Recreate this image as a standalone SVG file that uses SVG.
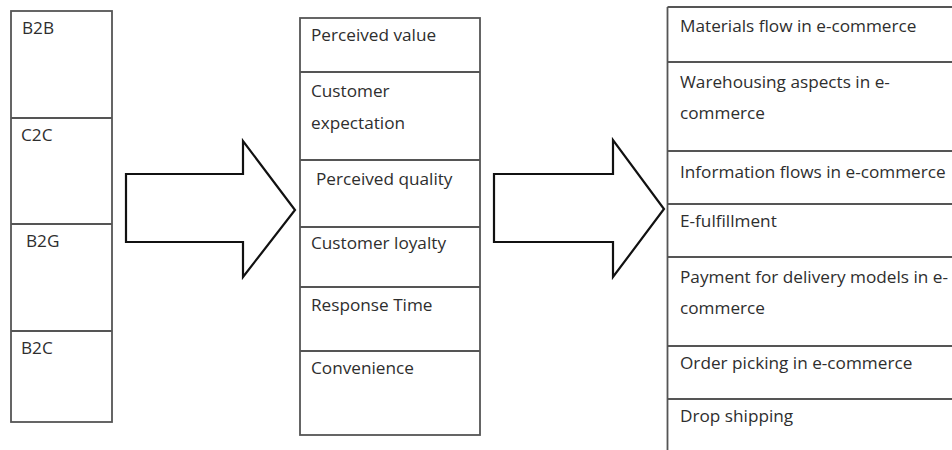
<svg xmlns="http://www.w3.org/2000/svg" width="952" height="450" viewBox="0 0 952 450">
  <style>
    .box { fill: #ffffff; stroke: #555555; stroke-width: 1.8; }
    .rule { stroke: #555555; stroke-width: 1.8; fill: none; }
    .arrow { fill: #ffffff; stroke: #111111; stroke-width: 2.2; stroke-linejoin: miter; }
    .label { font-family: "Open Sans", "Noto Sans", sans-serif; font-size: 17.2px; fill: #2e2e2e; }
  </style>
  <rect width="952" height="450" fill="#ffffff"/>

  <!-- Column 1: e-commerce types -->
  <g id="types">
    <rect class="box" x="11" y="11" width="101" height="411"/>
    <line class="rule" x1="11" y1="118" x2="112" y2="118"/>
    <line class="rule" x1="11" y1="224" x2="112" y2="224"/>
    <line class="rule" x1="11" y1="331" x2="112" y2="331"/>
    <text class="label" x="22" y="34">B2B</text>
    <text class="label" x="21" y="141">C2C</text>
    <text class="label" x="26" y="247">B2G</text>
    <text class="label" x="21" y="354">B2C</text>
  </g>

  <!-- Column 2: service quality factors -->
  <g id="factors">
    <rect class="box" x="300" y="18" width="180" height="417"/>
    <line class="rule" x1="300" y1="72" x2="480" y2="72"/>
    <line class="rule" x1="300" y1="160" x2="480" y2="160"/>
    <line class="rule" x1="300" y1="227" x2="480" y2="227"/>
    <line class="rule" x1="300" y1="287" x2="480" y2="287"/>
    <line class="rule" x1="300" y1="351" x2="480" y2="351"/>
    <text class="label" x="311" y="41">Perceived value</text>
    <text class="label" x="311" y="97">Customer</text>
    <text class="label" x="311" y="129">expectation</text>
    <text class="label" x="316" y="185">Perceived quality</text>
    <text class="label" x="311" y="249">Customer loyalty</text>
    <text class="label" x="311" y="311">Response Time</text>
    <text class="label" x="311" y="374">Convenience</text>
  </g>

  <!-- Column 3: logistics topics (runs off the right and bottom edges) -->
  <g id="logistics">
    <line class="rule" x1="667.5" y1="7" x2="667.5" y2="450"/>
    <line class="rule" x1="667.5" y1="7" x2="952" y2="7"/>
    <line class="rule" x1="667.5" y1="62" x2="952" y2="62"/>
    <line class="rule" x1="667.5" y1="151" x2="952" y2="151"/>
    <line class="rule" x1="667.5" y1="204" x2="952" y2="204"/>
    <line class="rule" x1="667.5" y1="257" x2="952" y2="257"/>
    <line class="rule" x1="667.5" y1="346" x2="952" y2="346"/>
    <line class="rule" x1="667.5" y1="399" x2="952" y2="399"/>
    <text class="label" x="680" y="32">Materials flow in e-commerce</text>
    <text class="label" x="680" y="88">Warehousing aspects in e-</text>
    <text class="label" x="680" y="119">commerce</text>
    <text class="label" x="680" y="178">Information flows in e-commerce</text>
    <text class="label" x="680" y="227">E-fulfillment</text>
    <text class="label" x="680" y="283">Payment for delivery models in e-</text>
    <text class="label" x="680" y="314">commerce</text>
    <text class="label" x="680" y="369">Order picking in e-commerce</text>
    <text class="label" x="680" y="422">Drop shipping</text>
  </g>

  <!-- Block arrows between columns -->
  <g id="connectors">
    <polygon class="arrow" points="126,174 243,174 243,141 295,210 243,277 243,242 126,242"/>
    <polygon class="arrow" points="494,174 613,174 613,140 664,209 613,277 613,242 494,242"/>
  </g>
</svg>
